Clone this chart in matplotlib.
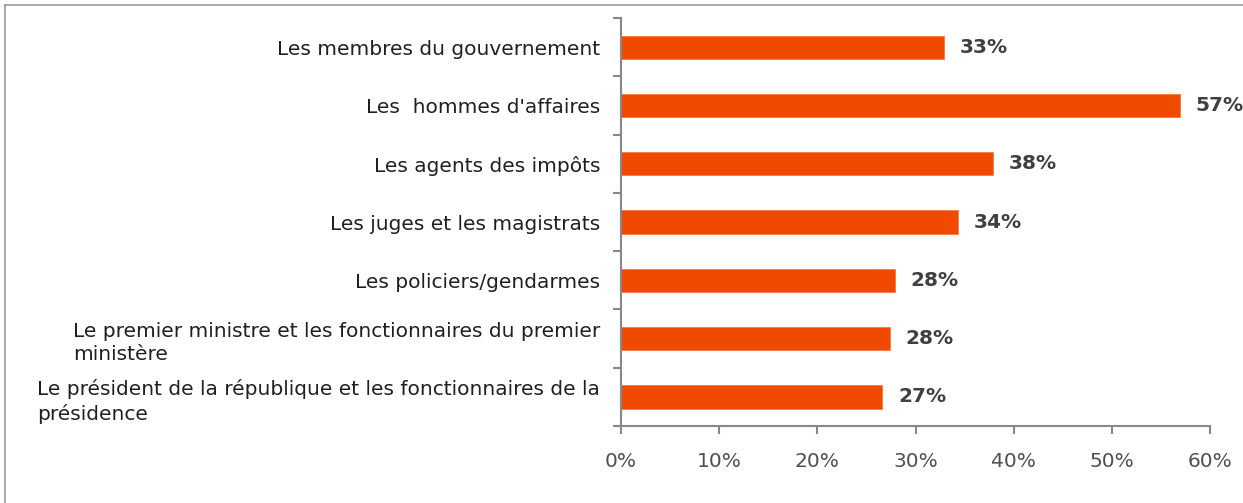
import matplotlib
matplotlib.use("Agg")
import matplotlib.pyplot as plt
from matplotlib.lines import Line2D

# data (top to bottom as in the chart)
categories = [
    "Les membres du gouvernement",
    "Les  hommes d'affaires",
    "Les agents des impôts",
    "Les juges et les magistrats",
    "Les policiers/gendarmes",
    "Le premier ministre et les fonctionnaires du premier\nministère",
    "Le président de la république et les fonctionnaires de la\nprésidence",
]
values = [32.9, 56.9, 37.9, 34.3, 27.9, 27.4, 26.6]
value_labels = ["33%", "57%", "38%", "34%", "28%", "28%", "27%"]
xticks = [0, 10, 20, 30, 40, 50, 60]

plt.rcParams['font.family'] = ['DejaVu Sans']

fig = plt.figure(figsize=(12.43, 5.03), dpi=100)
ax = fig.add_axes([0.4996, 0.153, 0.474, 0.811])

n = len(categories)
ypos = list(range(n))[::-1]
ax.barh(ypos, values, height=0.4, color="#F04A00", edgecolor="#F47A40", linewidth=0.6)

for y, v, lab in zip(ypos, values, value_labels):
    ax.text(v + 1.6, y, lab, va="center", ha="left", fontsize=14.5,
            fontweight="bold", color="#404040")

ax.set_xlim(0, 60)
ax.set_ylim(-0.5, n - 0.5)
ax.set_xticks(xticks)
ax.set_xticklabels([f"{t}%" for t in xticks], fontsize=14.5, color="#505050")
ax.set_yticks(ypos)
ax.set_yticklabels(categories, fontsize=14.5, color="#202020", linespacing=1.3)
for t in ax.get_yticklabels():
    t.set_multialignment("left")

ax.set_yticks([i - 0.5 for i in range(n + 1)], minor=True)
ax.tick_params(axis="y", which="major", length=0, pad=15)
ax.tick_params(axis="y", which="minor", length=6, color="#888888", width=1.5)
ax.tick_params(axis="x", length=6, color="#888888", width=1.5, pad=13)

for s in ["top", "right"]:
    ax.spines[s].set_visible(False)
for s in ["left", "bottom"]:
    ax.spines[s].set_color("#888888")
    ax.spines[s].set_linewidth(1.5)

# partial outer frame of the original picture
fig.add_artist(Line2D([0.004, 1.0], [0.99, 0.99], color="#999999", lw=1.2, transform=fig.transFigure))
fig.add_artist(Line2D([0.004, 0.004], [0.0, 0.99], color="#999999", lw=1.2, transform=fig.transFigure))

plt.savefig("out.png", dpi=100)
